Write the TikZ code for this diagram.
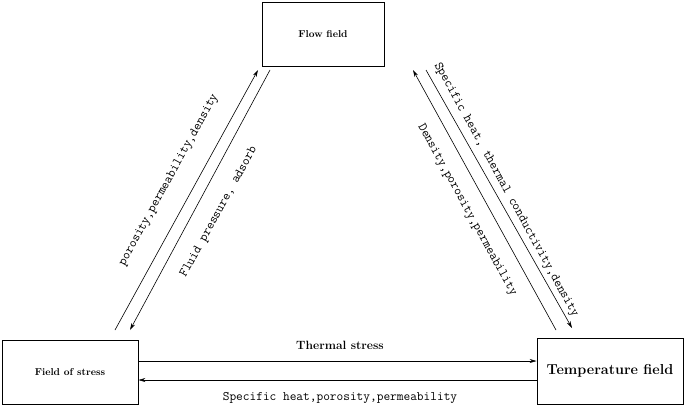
\documentclass[tikz,border=0pt]{standalone}
\usetikzlibrary{arrows.meta}
\begin{document}
\begin{tikzpicture}[x=1pt,y=-1pt,
 box/.style={draw,line width=0.8pt,inner sep=0pt,font=\bfseries},
 con/.style={-{Stealth[length=7pt,width=4pt]},line width=0.6pt},
 lab/.style={font=\ttfamily\fontsize{13}{15}\selectfont,inner sep=1pt}]
\useasboundingbox (0,0) rectangle (685,407);
\node[box,minimum width=122,minimum height=64] (flow) at (323,34) {Flow field};
\node[box,minimum width=136,minimum height=64] (stress) at (70,372) {Field of stress};
\node[box,minimum width=146,minimum height=66,font=\bfseries\Large] (temp) at (610,371) {Temperature field};
\coordinate (a1) at (115,330); \coordinate (a2) at (258,70);
\coordinate (b1) at (270,70); \coordinate (b2) at (130,330);
\coordinate (c1) at (556,330); \coordinate (c2) at (413,70);
\coordinate (d1) at (426,70); \coordinate (d2) at (572,328);
\draw[con] (a1) -- (a2);
\draw[con] (b1) -- (b2);
\draw[con] (c1) -- (c2);
\draw[con] (d1) -- (d2);
\draw[con] (stress.east|-0,361) -- (temp.west|-0,361);
\draw[con] (temp.west|-0,380) -- (stress.east|-0,380);
\node[lab,rotate=61.2] at (169,180) {porosity,permeability,density};
\node[lab,rotate=61.2] at (219,212) {Fluid pressure, adsorb};
\node[lab,rotate=-61.2] at (467,210) {Density,porosity,permeability};
\node[lab,rotate=-61.2] at (506,190) {Specific heat, thermal conductivity,density};
\node[font=\bfseries\large] at (340,345) {Thermal stress};
\node[lab] at (340,398) {Specific heat,porosity,permeability};
\end{tikzpicture}
\end{document}
